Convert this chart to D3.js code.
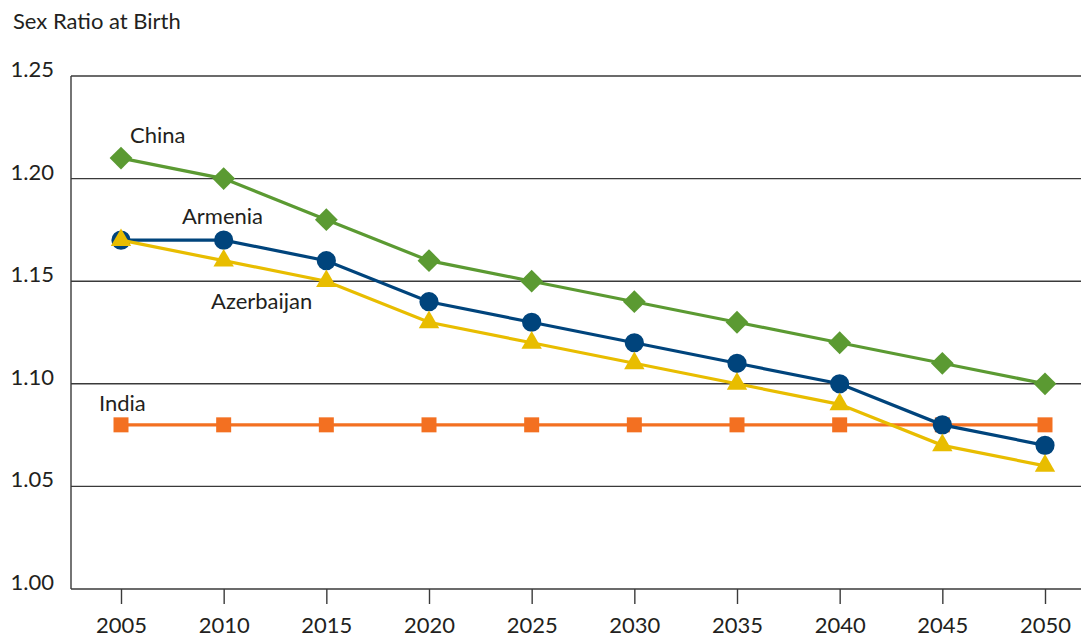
<!DOCTYPE html>
<html>
<head>
<meta charset="utf-8">
<script src="https://cdn.jsdelivr.net/npm/d3@7"></script>
<style>
  body { margin: 0; background: #fff; }
  text { font-family: Lato, "Noto Sans", sans-serif; fill: #231f20; }
</style>
</head>
<body>
<script>
// chart size
var w = 1081;
var h = 639;

var years = [2005, 2010, 2015, 2020, 2025, 2030, 2035, 2040, 2045, 2050];
var yTicks = [1.00, 1.05, 1.10, 1.15, 1.20, 1.25];

var china      = [1.21, 1.20, 1.18, 1.16, 1.15, 1.14, 1.13, 1.12, 1.11, 1.10];
var armenia    = [1.17, 1.17, 1.16, 1.14, 1.13, 1.12, 1.11, 1.10, 1.08, 1.07];
var azerbaijan = [1.17, 1.16, 1.15, 1.13, 1.12, 1.11, 1.10, 1.09, 1.07, 1.06];
var india      = [1.08, 1.08, 1.08, 1.08, 1.08, 1.08, 1.08, 1.08, 1.08, 1.08];

var svg = d3.select("body").append("svg")
  .attr("width", w)
  .attr("height", h);

var x = d3.scalePoint().domain(years).range([121, 1045]);
var y = d3.scaleLinear().domain([1.00, 1.25]).range([589, 76]);

// gridlines
svg.selectAll("line.grid")
  .data(yTicks)
  .enter()
  .append("line")
  .attr("class", "grid")
  .attr("x1", 71)
  .attr("x2", w)
  .attr("y1", function(d) { return y(d); })
  .attr("y2", function(d) { return y(d); })
  .attr("stroke", "#3a3a3a")
  .attr("stroke-width", 1.4);

// left axis line
svg.append("line")
  .attr("x1", 71).attr("x2", 71)
  .attr("y1", y(1.25)).attr("y2", y(1.00))
  .attr("stroke", "#3a3a3a")
  .attr("stroke-width", 1.4);

// y labels
svg.selectAll("text.ylab")
  .data(yTicks)
  .enter()
  .append("text")
  .attr("class", "ylab")
  .attr("x", 54)
  .attr("y", function(d) { return y(d) + 1; })
  .attr("text-anchor", "end")
  .attr("font-size", 22)
  .text(function(d) { return d3.format(".2f")(d); });

// x axis ticks + labels
var xAxis = d3.axisBottom(x).tickSize(15).tickPadding(13);
var gx = svg.append("g")
  .attr("transform", "translate(0," + y(1.00) + ")")
  .call(xAxis);
gx.select(".domain").remove();
gx.selectAll(".tick line").attr("stroke", "#3a3a3a").attr("stroke-width", 1.4);
gx.selectAll(".tick text")
  .attr("font-size", 22)
  .attr("font-family", "Lato, 'Noto Sans', sans-serif")
  .attr("fill", "#231f20");

// title
svg.append("text")
  .attr("x", 13)
  .attr("y", 29)
  .attr("font-size", 22)
  .text("Sex Ratio at Birth");

var line = d3.line()
  .x(function(d, i) { return x(years[i]); })
  .y(function(d) { return y(d); });

function drawSeries(vals, color, symbol, size, rot) {
  svg.append("path")
    .datum(vals)
    .attr("d", line)
    .attr("fill", "none")
    .attr("stroke", color)
    .attr("stroke-width", 3.2);
  svg.selectAll(null)
    .data(vals)
    .enter()
    .append("path")
    .attr("d", d3.symbol().type(symbol).size(size))
    .attr("transform", function(d, i) {
      return "translate(" + x(years[i]) + "," + y(d) + ")" + (rot ? " rotate(45)" : "");
    })
    .attr("fill", color);
}

drawSeries(india, "#f37021", d3.symbolSquare, 225, false);
drawSeries(china, "#5b9a32", d3.symbolSquare, 260, true);
drawSeries(armenia, "#00447c", d3.symbolCircle, 290, false);
drawSeries(azerbaijan, "#e8bd00", d3.symbolTriangle, 180, false);

// series labels
var labels = [
  { t: "China", x: 130, y: 143 },
  { t: "Armenia", x: 182, y: 224 },
  { t: "Azerbaijan", x: 211, y: 309 },
  { t: "India", x: 99, y: 411 }
];
svg.selectAll("text.lab")
  .data(labels)
  .enter()
  .append("text")
  .attr("class", "lab")
  .attr("x", function(d) { return d.x; })
  .attr("y", function(d) { return d.y; })
  .attr("font-size", 22)
  .text(function(d) { return d.t; });
</script>
</body>
</html>
